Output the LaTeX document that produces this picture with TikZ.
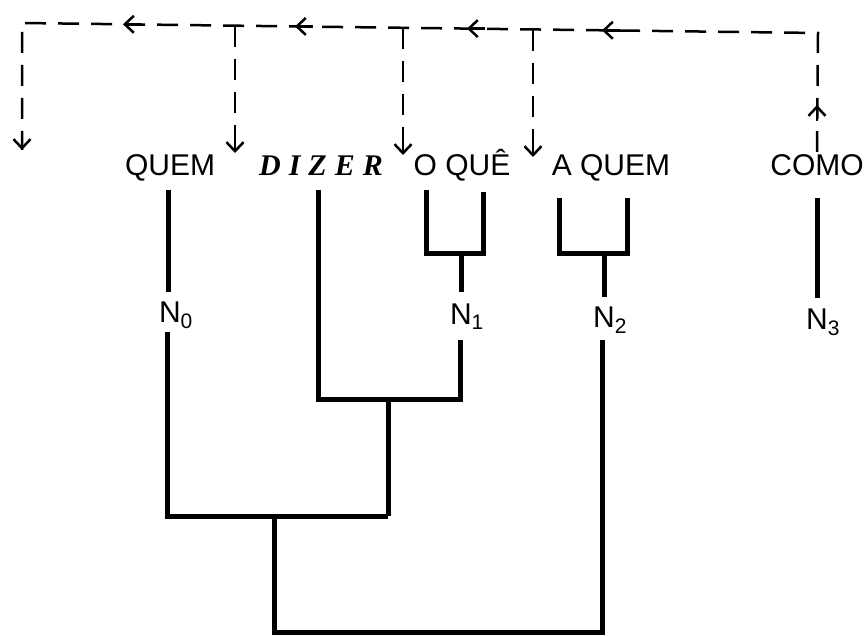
\documentclass[tikz,border=0pt]{standalone}
\usepackage{fontspec}
\setmainfont{Liberation Sans}
\newfontfamily\dizfont{Liberation Serif}
\usetikzlibrary{arrows.meta,calc}
\begin{document}
\begin{tikzpicture}[x=1pt,y=-1pt,
  lbl/.style={inner sep=0pt, anchor=base, font=\fontsize{30}{32}\selectfont},
  tree/.style={line width=5pt},
  flowdash/.style={line width=2.5pt, dash pattern=on 21pt off 12pt},
  tipline/.style={line width=2.5pt, -{Straight Barb[length=9pt,width=17pt,line width=2.5pt]}}
]
\useasboundingbox (0,0) rectangle (867,636);

% labels
\node[lbl] (quem)  at (170,176) {QUEM};
\node[lbl] (dizer) at (321,176) {\dizfont\bfseries\itshape D\hspace{8pt}I\hspace{8pt}Z\hspace{8pt}E\hspace{8pt}R};
\node[lbl] (oque)  at (462,176) {O QUÊ};
\node[lbl] (aquem) at (611,176) {A QUEM};
\node[lbl] (como)  at (817,176) {COMO};
\node[lbl] (n0) at (176,322) {N\textsubscript{0}};
\node[lbl] (n1) at (467,324) {N\textsubscript{1}};
\node[lbl] (n2) at (610,327) {N\textsubscript{2}};
\node[lbl] (n3) at (823,329) {N\textsubscript{3}};

% tree coordinates
\coordinate (qa) at (168,190); \coordinate (qb) at (168,292);
\coordinate (qc) at (167,332); \coordinate (qd) at (167,516);
\coordinate (da) at (318,190); \coordinate (db) at (318,399);
\coordinate (ea) at (460,399); \coordinate (eb) at (460,340);
\coordinate (ma) at (388,399); \coordinate (mb) at (388,516);
\coordinate (sa) at (274,516); \coordinate (sb) at (274,632);
\coordinate (ra) at (602,632); \coordinate (rb) at (602,340);
\coordinate (o1) at (426,190); \coordinate (o2) at (426,254);
\coordinate (o3) at (483,254); \coordinate (o4) at (483,192);
\coordinate (o5) at (461,254); \coordinate (o6) at (461,292);
\coordinate (a1) at (559,198); \coordinate (a2) at (559,254);
\coordinate (a3) at (627,254); \coordinate (a4) at (627,198);
\coordinate (a5) at (604,254); \coordinate (a6) at (604,297);
\coordinate (ca) at (817,198); \coordinate (cb) at (817,298);

\draw[tree] (qa) -- (qb);
\draw[tree] (qc) -- (qd) -- (mb);
\draw[tree] (da) -- (db) -- (ea) -- (eb);
\draw[tree] (ma) -- (mb);
\draw[tree] (sa) -- (sb) -- (ra) -- (rb);
\draw[tree] (o1) -- (o2) -- (o3) -- (o4);
\draw[tree] (o5) -- (o6);
\draw[tree] (a1) -- (a2) -- (a3) -- (a4);
\draw[tree] (a5) -- (a6);
\draw[tree] (ca) -- (cb);

% dashed flow
\coordinate (cu) at (817,152);
\coordinate (tr) at (818,33);
\coordinate (b4) at (533,30);
\coordinate (b3) at (403,28);
\coordinate (b2) at (235,26);
\coordinate (b1) at (22,23);
\coordinate (d1) at (22,150);
\coordinate (d2) at (235,153);
\coordinate (d3) at (403,155);
\coordinate (d4) at (533,157);
\coordinate (h1) at (123,24.3);
\coordinate (h2) at (295,26.4);
\coordinate (h3) at (467,28.6);
\coordinate (h4) at (602,30.3);
\coordinate (up) at (817,105);

\draw[flowdash, line join=miter] (cu) -- (tr) -- (b1) -- (d1);
\draw[flowdash] (b2) -- (d2);
\draw[flowdash] (b3) -- (d3);
\draw[flowdash] (b4) -- (d4);
\foreach \p in {d1,d2,d3,d4}{
  \draw[tipline] ($(\p)+(0,-14)$) -- (\p);
}
\foreach \p in {h1,h2,h3,h4}{
  \draw[tipline] ($(\p)+(18,0)$) -- (\p);
}
\draw[tipline] ($(up)+(0,16)$) -- (up);
\end{tikzpicture}
\end{document}
